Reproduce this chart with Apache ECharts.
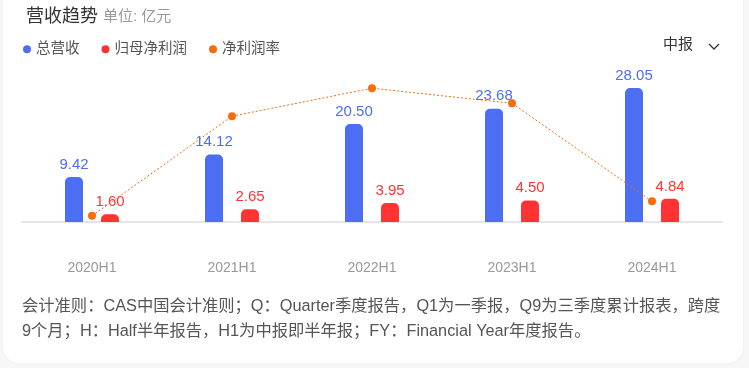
<!DOCTYPE html>
<html>
<head>
<meta charset="utf-8">
<script src="https://cdn.jsdelivr.net/npm/echarts@6/dist/echarts.min.js"></script>
<style>
html,body{margin:0;padding:0;width:749px;height:368px;background:#f7f7f8;overflow:hidden;}
#card{position:absolute;left:3px;top:-20px;width:740px;height:383px;background:#fff;border-radius:16px;box-shadow:0 0 4px rgba(0,0,0,0.04);}
#chart{position:absolute;left:0;top:0;width:749px;height:368px;}
</style>
</head>
<body>
<div id="card"></div>
<div id="chart"></div>
<script>
const categories = ['2020H1','2021H1','2022H1','2023H1','2024H1'];
const revenue = [9.42, 14.12, 20.50, 23.68, 28.05];
const netProfit = [1.60, 2.65, 3.95, 4.50, 4.84];
const netMargin = [16.99, 18.77, 19.27, 19.00, 17.25];
const seriesNames = ['总营收','归母净利润','净利润率'];
const titleText = '营收趋势';
const unitText = '单位: 亿元';
const periodText = '中报';
const noteLines = [
  '会计准则：CAS中国会计准则；Q：Quarter季度报告，Q1为一季报，Q9为三季度累计报表，跨度',
  '9个月；H：Half半年报告，H1为中报即半年报；FY：Financial Year年度报告。'
];

const FONT = '"Liberation Sans", "Noto Sans CJK SC", sans-serif';
const chart = echarts.init(document.getElementById('chart'), null, {renderer:'canvas'});
chart.setOption({
  backgroundColor: 'transparent',
  textStyle: {fontFamily: FONT},
  title: {
    left: 21, top: 3,
    text: '{t|' + titleText + '} {u|' + unitText + '}',
    textStyle: {
      fontWeight: 'normal',
      rich: {
        t: {fontSize: 18, color: '#333', fontFamily: FONT, fontWeight: 'normal'},
        u: {fontSize: 15, color: '#999', fontFamily: FONT, fontWeight: 'normal'}
      }
    }
  },
  legend: {
    left: 18, top: 37,
    icon: 'circle', itemWidth: 8, itemHeight: 8, itemGap: 22,
    textStyle: {fontSize: 14.5, color: '#555', fontFamily: FONT},
    data: seriesNames
  },
  grid: {left: 22, right: 27, top: 70, bottom: 146, containLabel: false},
  xAxis: {
    type: 'category', data: categories,
    axisLine: {lineStyle: {color: '#e6e6e6', width: 2}},
    axisTick: {show: false},
    axisLabel: {color: '#999', fontSize: 14, margin: 39, fontFamily: FONT}
  },
  yAxis: [
    {type: 'value', min: 0, max: 31.8, show: false, splitLine: {show:false}},
    {type: 'value', min: 16.88, max: 19.595, show: false, splitLine: {show:false}}
  ],
  series: [
    {
      name: seriesNames[0], type: 'bar', data: revenue, barWidth: 18, barGap: '100%',
      itemStyle: {color: '#4b6ef2', borderRadius: [5,5,0,0]},
      label: {show: true, position: 'top', distance: 5, color: '#4b6ef2', fontSize: 15,
        fontFamily: FONT, formatter: p => p.value.toFixed(2)}
    },
    {
      name: seriesNames[1], type: 'bar', data: netProfit, barWidth: 18,
      itemStyle: {color: '#ff3333', borderRadius: [5,5,0,0]},
      label: {show: true, position: 'top', distance: 5, color: '#ff3333', fontSize: 15,
        fontFamily: FONT, formatter: p => p.value.toFixed(2)}
    },
    {
      name: seriesNames[2], type: 'line', yAxisIndex: 1, data: netMargin,
      symbol: 'circle', symbolSize: 8, z: 5,
      itemStyle: {color: '#f56d0c'},
      lineStyle: {color: '#f56d0c', width: 1, type: [2,2]}
    }
  ],
  graphic: [
    {type: 'text', left: 663, top: 37, style: {text: periodText, fill: '#333', font: '15px ' + FONT}},
    {type: 'polyline', shape: {points: [[709,44],[714,49],[719,44]]}, style: {stroke: '#333', lineWidth: 1.3, fill: null}},
    {type: 'text', left: 22, top: 298, style: {text: noteLines[0], fill: '#555', font: '16.3px ' + FONT}},
    {type: 'text', left: 22, top: 323, style: {text: noteLines[1], fill: '#555', font: '16.3px ' + FONT}}
  ]
});
</script>
</body>
</html>
